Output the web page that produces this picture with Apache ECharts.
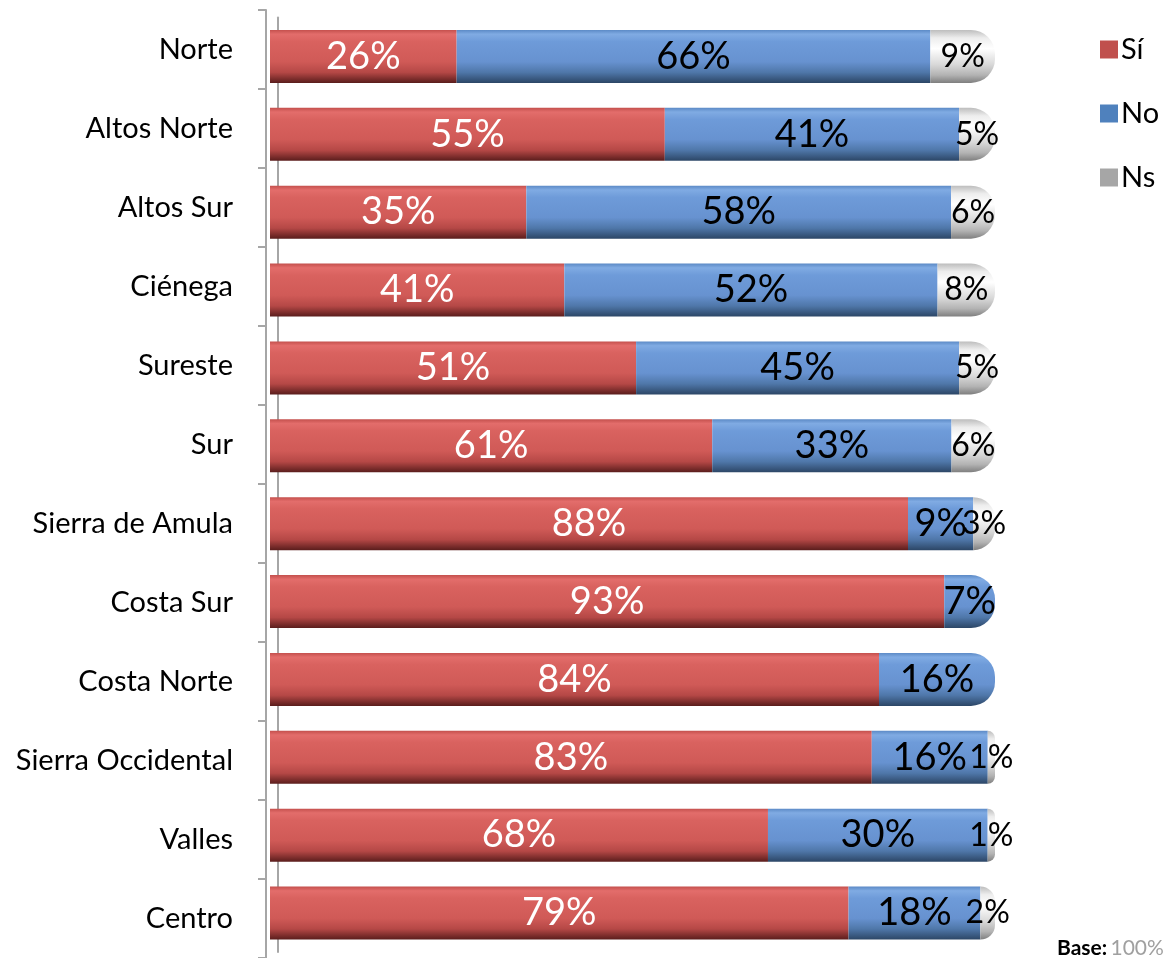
<!DOCTYPE html>
<html>
<head>
<meta charset="utf-8">
<script src="https://cdn.jsdelivr.net/npm/echarts@6/dist/echarts.min.js"></script>
<style>
html,body{margin:0;padding:0;background:#fff;}
#chart{width:1165px;height:958px;}
</style>
</head>
<body>
<div id="chart"></div>
<script>
const categories = ['Norte','Altos Norte','Altos Sur','Ciénega','Sureste','Sur','Sierra de Amula','Costa Sur','Costa Norte','Sierra Occidental','Valles','Centro'];
const seriesNames = ['Sí','No','Ns'];
const si = [26,55,35,41,51,61,88,93,84,83,68,79];
const no = [66,41,58,52,45,33,9,7,16,16,30,18];
const ns = [9,5,6,8,5,6,3,0,0,1,1,2];

const raw = [si, no, ns];
const totals = categories.map((c,i)=>si[i]+no[i]+ns[i]);

function grad(stops){
  return {type:'linear',x:0,y:0,x2:0,y2:1,colorStops:stops.map(s=>({offset:s[0],color:s[1]}))};
}
const fills = [
  grad([[0,'#C4504D'],[0.08,'#E36D6B'],[0.22,'#D9625F'],[0.6,'#D05A57'],[0.8,'#B54846'],[1,'#5A1D1C']]),
  grad([[0,'#5C8AC6'],[0.08,'#80ABE3'],[0.22,'#6E9BD9'],[0.6,'#6792D0'],[0.8,'#4F77A9'],[1,'#2C4666']]),
  grad([[0,'#BDBDBD'],[0.15,'#EDEDED'],[0.35,'#FFFFFF'],[0.65,'#D9D9D9'],[0.85,'#B3B3B3'],[1,'#7F7F7F']])
];
const legendColors = ['#C0504D','#4F81BD','#A6A6A6'];
const labelColors = ['#FFFFFF','#000000','#000000'];
const labelSizes = [38,38,32];

// index of last non-zero segment per category (gets the rounded end)
const lastSeg = categories.map((c,i)=>{ let k=0; raw.forEach((arr,s)=>{ if(arr[i]>0) k=s; }); return k; });

const series = seriesNames.map((name,s)=>({
  name,
  type:'bar',
  stack:'total',
  xAxisIndex:1,
  yAxisIndex:1,
  barWidth:53,
  itemStyle:{color:fills[s]},
  label:{
    show:true,
    position:'inside',
    color:labelColors[s],
    fontFamily:'Lato',
    fontSize:labelSizes[s],
    formatter:p=> raw[s][p.dataIndex] > 0 ? raw[s][p.dataIndex]+'%' : ''
  },
  labelLayout:{hideOverlap:false},
  data:categories.map((c,i)=>({
    value: raw[s][i] / totals[i],
    itemStyle:{
      color:fills[s],
      borderRadius: lastSeg[i]===s ? [0,24,24,0] : 0
    }
  }))
}));

const axisGray = '#A6A6A6';
const chart = echarts.init(document.getElementById('chart'));
chart.setOption({
  animation:false,
  backgroundColor:'#fff',
  grid:[
    {left:266,right:170,top:10,bottom:0,containLabel:false},
    {left:270,right:170,top:17.5,bottom:6,containLabel:false}
  ],
  legend:{
    orient:'vertical',
    left:1095,
    top:30,
    itemWidth:18,
    itemHeight:18,
    itemGap:35,
    icon:'rect',
    textStyle:{fontFamily:'Lato',fontSize:29,color:'#000',padding:[0,0,0,-2]},
    data:seriesNames.map((n,s)=>({name:n,itemStyle:{color:legendColors[s]}}))
  },
  xAxis:[
    {type:'value',gridIndex:0,min:0,max:1,show:false},
    {type:'value',gridIndex:1,min:0,max:1,show:false}
  ],
  yAxis:[
    {
      type:'category',
      gridIndex:0,
      inverse:true,
      data:categories,
      axisLine:{show:true,lineStyle:{color:axisGray,width:2}},
      axisTick:{show:true,length:8,lineStyle:{color:axisGray,width:2}},
      axisLabel:{fontFamily:'Lato',fontSize:29,color:'#000',margin:33}
    },
    {
      type:'category',
      gridIndex:1,
      inverse:true,
      data:categories,
      offset:-8,
      axisLine:{show:true,lineStyle:{color:axisGray,width:2}},
      axisTick:{show:false},
      axisLabel:{show:false}
    }
  ],
  graphic:[{
    type:'text',
    left:1057,
    bottom:-1,
    style:{
      text:'{b|Base:} {g|100%}',
      rich:{
        b:{fontFamily:'Lato',fontWeight:'bold',fontSize:21,fill:'#000'},
        g:{fontFamily:'Lato',fontSize:21,fill:'#A0A0A0'}
      }
    }
  }],
  series
});
</script>
</body>
</html>
